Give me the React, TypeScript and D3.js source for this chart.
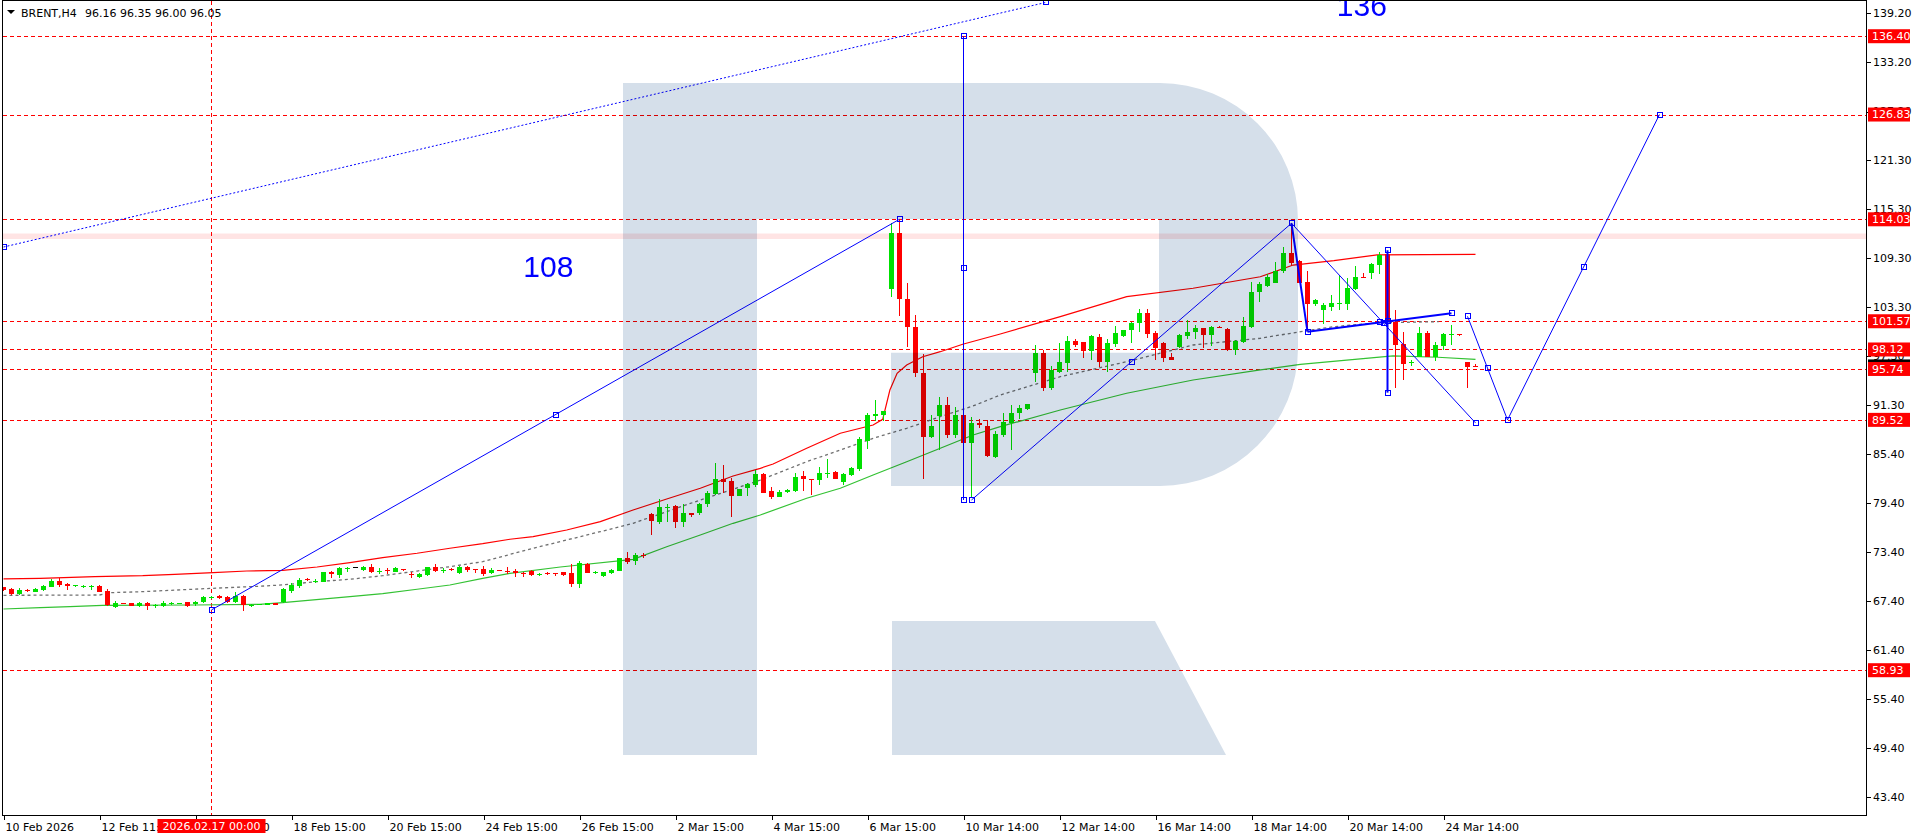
import React from 'react';
import * as d3 from 'd3';

const W = 1916;
const H = 840;

// ---- candles (H4 bars, index 0 = 10 Feb 2026) ----
const OPEN = [
  69.06, 68.9, 68.3, 68.77, 68.53, 68.73, 69.14, 69.87, 69.5, 69.24,
  69.2, 69.18, 69.22, 68.61, 66.65, 67.1, 67.1, 66.82, 67.1, 66.9,
  66.78, 66.98, 67.08, 67.22, 66.98, 67.27, 67.8, 68.04, 67.88, 67.27,
  68.0, 66.85, 66.92, 66.9, 67.1, 67.3, 68.61, 69.26, 70.03, 69.79,
  69.75, 70.97, 70.56, 71.42, 71.5, 71.17, 71.5, 71.05, 71.19, 70.97,
  71.25, 70.68, 70.28, 70.56, 71.5, 71.15, 71.25, 70.76, 71.54, 71.34,
  71.3, 70.76, 71.13, 71.05, 71.09, 70.81, 71.09, 70.6, 70.8, 70.8,
  70.89, 70.77, 69.5, 71.91, 70.85, 70.48, 70.77, 71.09, 72.6, 72.3,
  73.01, 78.02, 77.08, 78.87, 78.99, 77.08, 78.1, 78.1, 79.2, 80.46,
  82.25, 82.05, 80.26, 81.16, 81.56, 82.9, 80.79, 80.13, 80.66, 80.87,
  82.66, 82.33, 82.17, 82.98, 83.15, 81.89, 82.78, 83.52, 86.98, 90.03,
  90.12, 105.47, 112.39, 104.29, 100.87, 95.29, 87.47, 90.03, 91.33, 87.67,
  90.12, 86.65, 89.09, 88.77, 85.02, 87.67, 89.17, 90.32, 90.81, 95.29,
  97.73, 93.37, 95.41, 96.51, 99.16, 98.99, 97.98, 99.69, 96.63, 98.79,
  99.81, 100.5, 101.32, 102.54, 100.09, 98.87, 97.16, 98.46, 99.77, 100.3,
  100.71, 99.89, 100.91, 100.58, 98.05, 99.07, 100.91, 105.1, 105.88, 106.28,
  107.75, 109.95, 108.97, 106.4, 103.68, 102.98, 103.35, 103.68, 103.68, 105.47,
  107.02, 107.42, 108.44, 109.79, 101.52, 98.79, 96.43, 97.16, 100.09, 97.24,
  98.59, 99.93, 99.97, 96.55, 96.16,
];
const HIGH = [
  69.14, 69.0, 68.94, 68.8, 69.0, 69.35, 70.04, 70.16, 69.59, 69.38,
  69.35, 69.35, 69.35, 68.81, 67.39, 67.12, 67.18, 67.27, 67.31, 67.06,
  67.39, 67.22, 67.18, 67.27, 67.39, 68.0, 67.96, 68.16, 67.96, 68.53,
  68.12, 67.06, 67.05, 67.2, 67.18, 68.93, 69.63, 70.24, 70.16, 70.07,
  70.97, 71.05, 71.5, 71.54, 71.58, 71.66, 71.91, 71.38, 71.46, 71.5,
  71.34, 70.97, 70.76, 71.58, 71.87, 71.46, 71.46, 71.62, 71.62, 71.34,
  71.7, 71.38, 71.17, 71.5, 71.25, 70.97, 71.2, 70.8, 70.9, 70.85,
  70.97, 71.91, 72.23, 71.99, 71.0, 70.97, 71.25, 72.7, 73.4, 73.21,
  73.21, 78.1, 79.85, 79.2, 79.08, 79.2, 78.15, 79.33, 80.83, 84.29,
  84.01, 82.38, 81.1, 81.85, 83.4, 82.98, 81.27, 80.95, 81.03, 82.98,
  83.27, 82.33, 83.72, 84.78, 83.27, 82.98, 83.8, 87.47, 90.32, 91.95,
  90.6, 113.54, 114.03, 106.28, 102.33, 97.57, 90.12, 92.27, 92.27, 91.05,
  90.12, 89.91, 89.58, 89.5, 88.2, 90.4, 91.29, 91.29, 91.46, 98.67,
  98.05, 96.14, 98.87, 99.81, 99.36, 99.07, 99.89, 100.01, 99.36, 101.03,
  100.5, 101.52, 103.03, 103.03, 100.42, 99.07, 97.65, 100.01, 101.72, 101.11,
  100.71, 101.03, 101.03, 100.71, 99.28, 102.13, 106.4, 106.4, 107.3, 108.85,
  110.68, 113.54, 109.05, 107.75, 104.25, 103.84, 104.78, 107.22, 106.81, 108.32,
  107.5, 108.73, 110.07, 110.07, 102.94, 100.3, 96.83, 100.9, 100.42, 99.07,
  100.09, 101.11, 99.97, 96.55, 96.35,
];
const LOW = [
  68.61, 68.1, 68.12, 68.5, 68.45, 68.65, 69.06, 69.06, 68.77, 69.14,
  68.94, 68.77, 68.45, 66.82, 66.49, 67.0, 66.78, 66.7, 66.29, 66.57,
  66.7, 66.9, 67.02, 66.7, 66.82, 67.14, 67.59, 67.67, 67.18, 67.18,
  66.17, 66.65, 66.85, 66.85, 66.85, 67.2, 68.32, 69.01, 69.87, 69.54,
  69.67, 70.15, 70.15, 70.89, 71.38, 71.09, 70.85, 70.69, 70.64, 70.89,
  71.09, 70.24, 70.24, 70.48, 70.89, 70.85, 71.09, 70.68, 70.97, 70.76,
  70.48, 70.64, 71.05, 70.73, 70.36, 70.36, 70.4, 70.5, 70.6, 70.45,
  70.4, 69.14, 69.01, 70.77, 70.7, 70.36, 70.69, 71.0, 71.9, 71.78,
  72.6, 75.45, 76.8, 77.08, 76.35, 76.39, 77.7, 77.9, 78.83, 80.34,
  80.54, 77.69, 80.2, 80.26, 81.36, 80.54, 79.81, 80.05, 80.54, 80.75,
  80.87, 80.34, 81.56, 82.37, 82.25, 81.56, 82.66, 83.31, 85.92, 89.42,
  89.42, 104.49, 102.21, 98.46, 94.72, 82.25, 87.26, 85.84, 87.26, 87.26,
  86.45, 79.93, 88.48, 85.02, 84.82, 87.47, 85.84, 89.58, 90.73, 94.19,
  93.09, 93.17, 95.21, 95.41, 98.46, 97.12, 96.83, 96.02, 95.41, 98.46,
  99.69, 98.95, 100.3, 99.48, 96.83, 96.63, 96.83, 98.26, 99.36, 99.4,
  98.26, 98.59, 100.71, 97.98, 97.45, 98.95, 100.71, 103.96, 105.8, 106.2,
  107.5, 108.44, 106.2, 100.42, 103.43, 101.19, 102.86, 102.94, 102.94, 105.39,
  106.94, 106.77, 107.34, 93.5, 93.37, 94.39, 96.1, 97.16, 97.16, 96.75,
  98.05, 98.67, 99.81, 93.37, 96.0,
];
const CLOSE = [
  68.77, 68.3, 68.77, 68.57, 68.9, 69.26, 69.83, 69.35, 69.26, 69.32,
  69.22, 69.22, 68.53, 66.9, 67.14, 67.05, 66.82, 67.14, 66.82, 66.92,
  67.1, 67.14, 67.12, 66.82, 67.27, 67.88, 67.86, 67.71, 67.27, 68.0,
  66.9, 66.92, 66.98, 67.1, 66.92, 68.81, 69.34, 69.95, 69.91, 69.87,
  70.89, 70.64, 71.42, 71.46, 71.5, 71.58, 70.97, 71.09, 71.15, 71.38,
  71.19, 70.6, 70.68, 71.5, 71.05, 71.19, 71.19, 71.54, 71.13, 71.3,
  70.64, 71.21, 71.09, 71.0, 70.77, 70.73, 70.56, 70.65, 70.73, 70.73,
  70.56, 69.5, 71.99, 70.85, 70.89, 70.89, 71.17, 72.6, 72.2, 73.05,
  72.95, 77.2, 78.87, 78.92, 77.08, 78.1, 77.94, 79.2, 80.54, 82.25,
  81.97, 80.26, 81.07, 81.68, 82.91, 80.62, 80.13, 80.66, 80.95, 82.5,
  82.25, 82.25, 82.98, 83.07, 82.33, 82.9, 83.68, 87.18, 90.12, 90.2,
  90.6, 112.39, 104.25, 100.83, 95.2, 87.47, 88.77, 91.33, 87.67, 90.12,
  86.65, 89.09, 88.89, 85.1, 87.79, 89.3, 90.4, 91.01, 91.46, 97.73,
  93.37, 95.61, 96.63, 99.16, 98.67, 97.98, 99.77, 96.63, 98.87, 100.09,
  100.5, 101.4, 102.54, 100.01, 98.26, 97.12, 96.83, 99.89, 100.3, 100.75,
  99.89, 100.91, 100.87, 98.05, 99.16, 100.99, 105.18, 106.12, 107.02, 107.75,
  109.95, 108.73, 106.28, 103.68, 104.17, 103.5, 103.76, 103.76, 105.59, 107.02,
  106.94, 108.56, 109.67, 101.64, 98.67, 96.34, 96.55, 100.09, 97.24, 98.67,
  100.01, 99.97, 99.89, 96.02, 96.05,
];

// ---- indicator lines: [bar index, price] ----
const upperLine: [number, number][] = [
  [0, 70.08], [4.6, 70.16], [11.4, 70.36], [17.4, 70.48], [21.4, 70.65], [26.2, 70.85],
  [30.4, 71.05], [34.9, 71.14], [39.2, 71.54], [43.3, 72.07], [47.4, 72.68], [51.7, 73.22],
  [55.8, 73.83], [59.9, 74.39], [63.3, 74.93], [66.2, 75.25], [70.4, 76.06], [74.6, 77.08],
  [78.7, 78.51], [82.9, 79.85], [87.1, 81.16], [91.2, 82.66], [94.6, 83.6], [96.2, 84.13],
  [100.4, 86.05], [104.6, 87.88], [108.7, 88.89], [109.9, 89.59], [110.8, 93.17], [111.7, 95.21],
  [112.9, 96.23], [114.9, 97.24], [117.1, 97.85], [119.9, 98.76], [124.6, 100.01], [132.1, 102.13],
  [140.4, 104.57], [148.7, 105.6], [157.1, 107.01], [161.2, 108.44], [166.3, 108.97], [171.7, 109.67],
  [184, 109.75],
];
const middleLine: [number, number][] = [
  [0, 68.08], [12, 68.12], [13.3, 68.4], [17.4, 68.53], [23.6, 68.82], [26.2, 68.94],
  [32, 69.19], [34.9, 69.35], [39.2, 69.75], [43.3, 70.04], [47.4, 70.48], [51.7, 71.05],
  [55.8, 71.58], [59.9, 72.19], [66.2, 73.83], [70.4, 74.84], [74.6, 75.86], [78.7, 76.88],
  [82.9, 78.3], [87.1, 79.73], [91.2, 81.04], [94.6, 82.17], [100.4, 84.41], [104.6, 85.84],
  [108.7, 87.27], [112.9, 88.49], [117.1, 89.91], [121.2, 91.22], [124.6, 92.56], [132.1, 94.8],
  [140.4, 96.63], [148.7, 98.67], [157.1, 99.49], [162.9, 100.42], [166.3, 100.91], [172, 101.39],
  [179.4, 101.52],
];
const lowerLine: [number, number][] = [
  [0, 66.41], [4.6, 66.57], [8.3, 66.69], [12.4, 66.86], [23.7, 66.9], [32, 66.98],
  [34.9, 67.2], [43.3, 67.91], [47.4, 68.28], [51.7, 68.82], [55.8, 69.34], [59.9, 70.16],
  [63.3, 70.77], [69.6, 71.54], [78.7, 72.48], [82.9, 74.02], [87.1, 75.45], [91.2, 76.88],
  [94.6, 77.9], [100.4, 79.94], [104.6, 81.16], [108.7, 82.78], [112.9, 84.41], [117.1, 86.05],
  [121.2, 87.67], [124.6, 88.69], [132.1, 90.73], [140.4, 92.77], [148.7, 94.39], [157.1, 95.62],
  [162.1, 96.31], [173.7, 97.33], [179.3, 97.17], [184, 96.92],
];

// ---- axes ----
const priceTicks = [139.2, 133.2, 127.2, 121.3, 115.3, 109.3, 103.3, 97.3, 91.3, 85.4, 79.4, 73.4, 67.4, 61.4, 55.4, 49.4, 43.4];
const timeTickBars = [0, 12, 24, 36, 48, 60, 72, 84, 96, 108, 120, 132, 144, 156, 168, 180];
const timeLabels = [
  '10 Feb 2026', '12 Feb 11:00', '16 Feb 15:00', '18 Feb 15:00', '20 Feb 15:00', '24 Feb 15:00',
  '26 Feb 15:00', '2 Mar 15:00', '4 Mar 15:00', '6 Mar 15:00', '10 Mar 14:00', '12 Mar 14:00',
  '16 Mar 14:00', '18 Mar 14:00', '20 Mar 14:00', '24 Mar 14:00',
];

// ---- analysis objects ----
const levelPrices = [136.4, 126.83, 114.03, 101.57, 98.12, 95.74, 89.52, 58.93];
const currentPrice = 96.05;
const markerBar = 26;
const markerLabel = '2026.02.17 00:00';
const pinkZone = [111.62, 112.29];
const dottedTrend: [number, number][] = [[0, 110.64], [130.25, 140.52]];
type Seg = { from: [number, number]; to: [number, number]; w: number; mid: boolean };
const waveLines: Seg[] = [
  { from: [26, 66.3], to: [112, 114.03], w: 1, mid: true },
  { from: [120, 136.4], to: [120, 79.73], w: 1, mid: true },
  { from: [121, 79.73], to: [161, 113.54], w: 1, mid: true },
  { from: [161, 113.54], to: [163, 100.3], w: 2, mid: false },
  { from: [163, 100.3], to: [181, 102.54], w: 2, mid: true },
  { from: [161, 113.54], to: [184, 89.15], w: 1, mid: true },
  { from: [173, 110.25], to: [173, 92.85], w: 2, mid: true },
  { from: [183, 102.17], to: [188, 89.52], w: 1, mid: true },
  { from: [188, 89.52], to: [207, 126.83], w: 1, mid: true },
];
const textNotes = [
  { text: '108', bar: 68.1, price: 108.2 },
  { text: '136', bar: 169.8, price: 140.1 },
];

const BULL = '#00e000';
const BEAR = '#ff0000';
const BLUE = '#0000ff';
const FONT = "'DejaVu Sans', sans-serif";

export default function App() {
  const x = d3.scaleLinear().domain([0, 1]).range([3.5, 11.5]);
  const y = d3.scaleLinear().domain([43.4, 139.2]).range([797.3, 13.3]);
  const line = d3.line<[number, number]>().x((d) => x(d[0])).y((d) => y(d[1]));

  const plotL = 2.5, plotT = 0.5, plotR = 1866.5, plotB = 815.5;

  const squares: [number, number][] = [];
  waveLines.forEach((s) => {
    squares.push(s.from, s.to);
    if (s.mid) squares.push([(s.from[0] + s.to[0]) / 2, (s.from[1] + s.to[1]) / 2]);
  });
  squares.push(dottedTrend[0], dottedTrend[1]);

  return (
    <svg width={W} height={H} style={{ position: 'fixed', left: 0, top: 0, background: '#fff' }} fontFamily={FONT}>
      <defs>
        <clipPath id="plot">
          <rect x={plotL + 0.5} y={plotT + 0.5} width={plotR - plotL - 1} height={plotB - plotT - 1} />
        </clipPath>
      </defs>
      <rect x={0} y={0} width={W} height={H} fill="#fff" />
      <g clipPath="url(#plot)">
        {/* pink zone */}
        <rect x={plotL} width={plotR - plotL} y={y(pinkZone[1])} height={y(pinkZone[0]) - y(pinkZone[1])} fill="#ffd2d2" opacity={0.6} />
        {/* horizontal levels */}
        {levelPrices.map((p) => (
          <line key={p} x1={plotL} x2={plotR} y1={Math.round(y(p)) + 0.5} y2={Math.round(y(p)) + 0.5} stroke={BEAR} strokeDasharray="4,3" shapeRendering="crispEdges" />
        ))}
        {/* vertical marker */}
        <line x1={x(markerBar)} x2={x(markerBar)} y1={plotT} y2={plotB} stroke={BEAR} strokeDasharray="4,3" shapeRendering="crispEdges" />
        {/* indicator lines */}
        <path d={line(upperLine) || ''} fill="none" stroke="#ff0000" strokeWidth={1.2} />
        <path d={line(lowerLine) || ''} fill="none" stroke="#33c233" strokeWidth={1.2} />
        <path d={line(middleLine) || ''} fill="none" stroke="#707070" strokeWidth={1.3} strokeDasharray="3,3" />
        {/* candles */}
        <g shapeRendering="crispEdges">
          {OPEN.map((o, i) => {
            const c = CLOSE[i];
            const col = o === c ? '#000' : c > o ? BULL : BEAR;
            const cx = x(i);
            const top = y(Math.max(o, c));
            const h = Math.max(1, Math.abs(y(o) - y(c)));
            return (
              <g key={i}>
                <line x1={cx} x2={cx} y1={y(HIGH[i])} y2={y(LOW[i])} stroke={col} strokeWidth={1} />
                <rect x={cx - 2.5} y={top} width={5} height={h} fill={col} />
              </g>
            );
          })}
        </g>
        {/* dotted trend */}
        <path d={line(dottedTrend) || ''} fill="none" stroke={BLUE} strokeWidth={1} strokeDasharray="2,2" />
        {/* wave lines */}
        {waveLines.map((s, k) => (
          <path key={k} d={line([s.from, s.to]) || ''} fill="none" stroke={BLUE} strokeWidth={s.w} />
        ))}
        {squares.map((p, k) => (
          <rect key={k} x={Math.round(x(p[0])) - 2.5} y={Math.round(y(p[1])) - 2.5} width={5} height={5} fill="none" stroke={BLUE} strokeWidth={1} shapeRendering="crispEdges" />
        ))}
        {textNotes.map((t) => (
          <text key={t.text} x={x(t.bar)} y={y(t.price)} fill={BLUE} fontSize={30} fontFamily="'Liberation Sans', Arial, sans-serif" textAnchor="middle" dominantBaseline="central">
            {t.text}
          </text>
        ))}
        {/* watermark logo, multiplied over the chart */}
        <g fill="#d5dfea" style={{ mixBlendMode: 'multiply' }}>
          <path d="M623,83 H757 V755 H623 Z" />
          <path d="M757,83 H1160 A138,138 0 0 1 1298,221 V348 A138,138 0 0 1 1160,486 H891 V352.7 H1159 V219 H757 Z" />
          <path d="M892,621 H1155 L1226,755 H892 Z" />
        </g>
      </g>
      {/* header */}
      <path d="M7,10 L15,10 L11,14 Z" fill="#000" />
      <text x={21} y={17} fontSize={11} fill="#000">BRENT,H4</text>
      <text x={85} y={17} fontSize={11} fill="#000">96.16 96.35 96.00 96.05</text>
      {/* frame */}
      <rect x={plotL} y={plotT} width={plotR - plotL} height={plotB - plotT} fill="none" stroke="#000" strokeWidth={1} shapeRendering="crispEdges" />
      {/* price axis */}
      {priceTicks.map((p) => (
        <g key={p}>
          <line x1={plotR} x2={plotR + 4} y1={Math.round(y(p)) + 0.5} y2={Math.round(y(p)) + 0.5} stroke="#000" shapeRendering="crispEdges" />
          <text x={1873} y={y(p)} dy="0.36em" fontSize={11} fill="#000">{p.toFixed(2)}</text>
        </g>
      ))}
      <g>
        <rect x={1868} y={y(currentPrice) - 7} width={42} height={14} fill="#000" />
        <text x={1872} y={y(currentPrice)} dy="0.36em" fontSize={11} fill="#fff">{currentPrice.toFixed(2)}</text>
      </g>
      {levelPrices.map((p) => (
        <g key={p}>
          <rect x={1868} y={y(p) - 7} width={42} height={14} fill={BEAR} />
          <text x={1872} y={y(p)} dy="0.36em" fontSize={11} fill="#fff">{p.toFixed(2)}</text>
        </g>
      ))}
      {/* time axis */}
      {timeTickBars.map((b, k) => (
        <g key={b}>
          <line x1={Math.round(x(b)) + 0.5} x2={Math.round(x(b)) + 0.5} y1={plotB} y2={plotB + 4} stroke="#000" shapeRendering="crispEdges" />
          <text x={x(b) + 2} y={831} fontSize={11} fill="#000">{timeLabels[k]}</text>
        </g>
      ))}
      <rect x={x(markerBar) - 54} y={819} width={108} height={14} fill={BEAR} />
      <text x={x(markerBar)} y={830} fontSize={11} fill="#fff" textAnchor="middle">{markerLabel}</text>
    </svg>
  );
}
